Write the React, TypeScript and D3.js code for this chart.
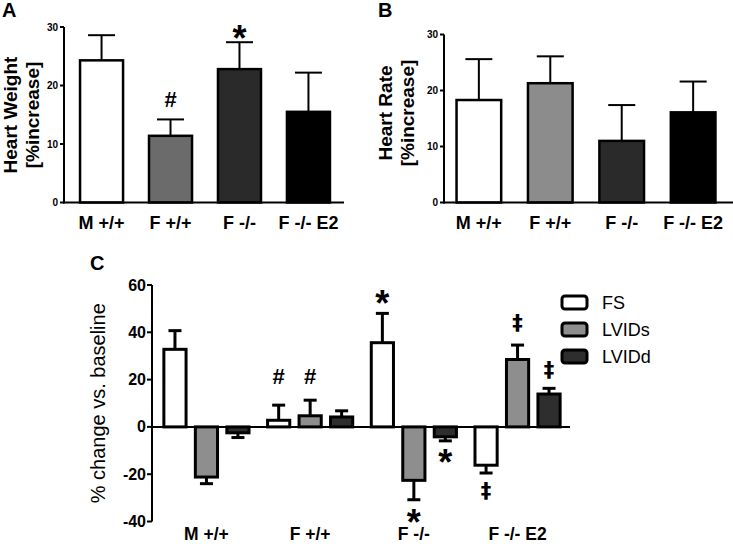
import React from "react";
import * as d3 from "d3";

// ---------- DATA ----------
const categories = ["M +/+", "F +/+", "F -/-", "F -/- E2"];

// Panel A: Heart Weight [%increase]
const heartWeight = [24.3, 11.4, 22.8, 15.5];
const heartWeightErr = [28.6, 14.2, 27.4, 22.2];
const aTicks = [0, 10, 20, 30];
const aColors = ["#ffffff", "#6b6b6b", "#2a2a2a", "#000000"];
const aAnnotations = [
  { cat: "F +/+", sym: "#", at: 17.6 },
  { cat: "F -/-", sym: "*", at: 29.4 },
];

// Panel B: Heart Rate [%increase]
const heartRate = [18.3, 21.3, 11.0, 16.1];
const heartRateErr = [25.6, 26.1, 17.4, 21.6];
const bTicks = [0, 10, 20, 30];
const bColors = ["#ffffff", "#8c8c8c", "#2a2a2a", "#000000"];

// Panel C: % change vs. baseline
const series = ["FS", "LVIDs", "LVIDd"];
const cColors = ["#ffffff", "#8e8e8e", "#2e2e2e"];
const fsValues = [32.8, 2.8, 35.6, -16.2];
const fsErr = [40.7, 9.2, 48.0, -19.5];
const lvidsValues = [-21.2, 4.7, -22.6, 28.5];
const lvidsErr = [-24.0, 11.3, -30.8, 34.6];
const lviddValues = [-2.5, 4.2, -4.2, 13.9];
const lviddErr = [-4.5, 6.8, -5.9, 16.3];
const cTicks = [-40, -20, 0, 20, 40, 60];
const cAnnotations = [
  { cat: "F +/+", ser: "FS", sym: "#", at: 21.5 },
  { cat: "F +/+", ser: "LVIDs", sym: "#", at: 21.5 },
  { cat: "F -/-", ser: "FS", sym: "*", at: 55.3 },
  { cat: "F -/-", ser: "LVIDs", sym: "*", at: -37.3 },
  { cat: "F -/-", ser: "LVIDd", sym: "*", at: -11.9 },
  { cat: "F -/- E2", ser: "FS", sym: "‡", at: -27.5 },
  { cat: "F -/- E2", ser: "LVIDs", sym: "‡", at: 43.5 },
  { cat: "F -/- E2", ser: "LVIDd", sym: "‡", at: 23.6 },
];

const FONT = "'Liberation Sans', Arial, Helvetica, sans-serif";

const symStyle: Record<string, { size: number; weight: string; k: number; font: string }> = {
  "*": { size: 36, weight: "bold", k: 0.56, font: FONT },
  "#": { size: 22, weight: "bold", k: 0.36, font: FONT },
  "‡": { size: 21, weight: "bold", k: 0.3, font: "'DejaVu Sans', sans-serif" },
};

function Annot({ x, y, sym, size }: { x: number; y: number; sym: string; size?: number }) {
  const s = symStyle[sym];
  const fs = size ?? s.size;
  return (
    <text
      x={x}
      y={y + s.k * fs}
      textAnchor="middle"
      fontSize={fs}
      fontWeight={s.weight}
      fontFamily={s.font}
      fill="#000"
    >
      {sym}
    </text>
  );
}

function SimplePanel(props: {
  letter: string;
  letterX: number;
  axisX: number;
  axisEnd: number;
  y0: number;
  y30: number;
  xRange: [number, number];
  values: number[];
  errs: number[];
  ticks: number[];
  colors: string[];
  title1: string;
  title1X: number;
  title2X: number;
  titleY: number;
  annotations?: { cat: string; sym: string; at: number }[];
}) {
  const y = d3.scaleLinear().domain([0, 30]).range([props.y0, props.y30]);
  const x = d3
    .scaleBand<string>()
    .domain(categories)
    .range(props.xRange)
    .paddingInner(0.34)
    .paddingOuter(0.2);
  const bw = x.bandwidth();
  return (
    <g>
      <text x={props.letterX} y={17} fontSize={20} fontWeight="bold" fontFamily={FONT}>
        {props.letter}
      </text>
      {/* y title */}
      <text
        transform={`translate(${props.title1X},${props.titleY}) rotate(-90)`}
        textAnchor="middle"
        fontSize={19}
        fontWeight="bold"
        fontFamily={FONT}
      >
        {props.title1}
      </text>
      <text
        transform={`translate(${props.title2X},${props.titleY}) rotate(-90)`}
        textAnchor="middle"
        fontSize={19}
        fontWeight="bold"
        fontFamily={FONT}
      >
        [%increase]
      </text>
      {/* bars */}
      {categories.map((c, i) => {
        const x0 = x(c)!;
        const cx = x0 + bw / 2;
        return (
          <g key={c}>
            <line x1={cx} x2={cx} y1={y(props.values[i])} y2={y(props.errs[i])} stroke="#000" strokeWidth={2} />
            <line x1={cx - 13.5} x2={cx + 13.5} y1={y(props.errs[i])} y2={y(props.errs[i])} stroke="#000" strokeWidth={2} />
            <rect
              x={x0 + 1.25}
              y={y(props.values[i])}
              width={bw - 2.5}
              height={y(0) - y(props.values[i])}
              fill={props.colors[i]}
              stroke="#000"
              strokeWidth={2.5}
            />
            <text
              x={cx}
              y={229}
              textAnchor="middle"
              fontSize={18}
              fontWeight="bold"
              fontFamily={FONT}
            >
              {c}
            </text>
          </g>
        );
      })}
      {/* axes */}
      <line x1={props.axisX} x2={props.axisX} y1={y(30)} y2={y(0) + 1} stroke="#000" strokeWidth={2} />
      <line x1={props.axisX - 1} x2={props.axisEnd} y1={y(0)} y2={y(0)} stroke="#000" strokeWidth={2} />
      {props.ticks.map((t) => (
        <g key={t}>
          <line x1={props.axisX - 4} x2={props.axisX} y1={y(t)} y2={y(t)} stroke="#000" strokeWidth={2} />
          <text
            x={props.axisX - 6}
            y={y(t) + 3.5}
            textAnchor="end"
            fontSize={10}
            fontWeight="bold"
            fontFamily={FONT}
          >
            {t}
          </text>
        </g>
      ))}
      {(props.annotations || []).map((a, i) => (
        <Annot key={i} x={x(a.cat)! + bw / 2} y={y(a.at)} sym={a.sym} />
      ))}
    </g>
  );
}

function PanelC() {
  const y = d3.scaleLinear().domain([-40, 60]).range([521.5, 285]);
  const x0 = d3.scaleBand<string>().domain(categories).range([152, 572]).paddingInner(0.15).paddingOuter(0.1);
  const x1 = d3.scaleBand<string>().domain(series).range([0, x0.bandwidth()]).paddingInner(0.2);
  const bw = x1.bandwidth();
  const vals = [fsValues, lvidsValues, lviddValues];
  const errs = [fsErr, lvidsErr, lviddErr];
  const axisX = 152;
  return (
    <g>
      <text x={90} y={270} fontSize={20} fontWeight="bold" fontFamily={FONT}>
        C
      </text>
      <text
        transform={`translate(105,${y(10)}) rotate(-90)`}
        textAnchor="middle"
        fontSize={20}
        fontFamily={FONT}
      >
        % change vs. baseline
      </text>
      {categories.map((c, gi) => (
        <g key={c}>
          {series.map((s, si) => {
            const v = vals[si][gi];
            const e = errs[si][gi];
            const bx = x0(c)! + x1(s)!;
            const cx = bx + bw / 2;
            return (
              <g key={s}>
                <line x1={cx} x2={cx} y1={y(v)} y2={y(e)} stroke="#000" strokeWidth={3} />
                <line x1={cx - 6.5} x2={cx + 6.5} y1={y(e)} y2={y(e)} stroke="#000" strokeWidth={3} />
                <rect
                  x={bx + 1.5}
                  y={Math.min(y(v), y(0))}
                  width={bw - 3}
                  height={Math.abs(y(v) - y(0))}
                  fill={cColors[si]}
                  stroke="#000"
                  strokeWidth={3}
                />
              </g>
            );
          })}
          <text
            x={x0(c)! + x0.bandwidth() / 2}
            y={540}
            textAnchor="middle"
            fontSize={17.5}
            fontWeight="bold"
            fontFamily={FONT}
          >
            {c}
          </text>
        </g>
      ))}
      <line x1={axisX} x2={570} y1={y(0)} y2={y(0)} stroke="#000" strokeWidth={2} />
      <line x1={axisX} x2={axisX} y1={y(60)} y2={y(-40)} stroke="#000" strokeWidth={2} />
      {cTicks.map((t) => (
        <g key={t}>
          <line x1={axisX - 5} x2={axisX} y1={y(t)} y2={y(t)} stroke="#000" strokeWidth={2} />
          <text
            x={axisX - 6}
            y={y(t) + 5.5}
            textAnchor="end"
            fontSize={16}
            fontWeight="bold"
            fontFamily={FONT}
          >
            {t}
          </text>
        </g>
      ))}
      {cAnnotations.map((a, i) => (
        <Annot key={i} x={x0(a.cat)! + x1(a.ser)! + bw / 2} y={y(a.at)} sym={a.sym} />
      ))}
      {/* legend */}
      {series.map((s, i) => (
        <g key={s} transform={`translate(562,${296 + i * 27})`}>
          <rect x={0} y={0} width={25} height={13} rx={3} fill={cColors[i]} stroke="#000" strokeWidth={3} />
          <text x={40} y={13} fontSize={18} fontFamily={FONT}>
            {s}
          </text>
        </g>
      ))}
    </g>
  );
}

export default function App() {
  return (
    <svg
      width={733}
      height={544}
      style={{ position: "absolute", left: 0, top: 0, background: "#fff" }}
    >
      <rect width={733} height={544} fill="#fff" />
      <SimplePanel
        letter="A"
        letterX={2}
        axisX={64}
        axisEnd={344}
        y0={202.5}
        y30={27}
        xRange={[65, 345]}
        values={heartWeight}
        errs={heartWeightErr}
        ticks={aTicks}
        colors={aColors}
        title1="Heart Weight"
        title1X={17}
        title2X={39}
        titleY={115}
        annotations={aAnnotations}
      />
      <SimplePanel
        letter="B"
        letterX={378}
        axisX={444}
        axisEnd={733}
        y0={202.5}
        y30={34.5}
        xRange={[441, 731]}
        values={heartRate}
        errs={heartRateErr}
        ticks={bTicks}
        colors={bColors}
        title1="Heart Rate"
        title1X={392}
        title2X={414}
        titleY={113}
      />
      <PanelC />
    </svg>
  );
}
